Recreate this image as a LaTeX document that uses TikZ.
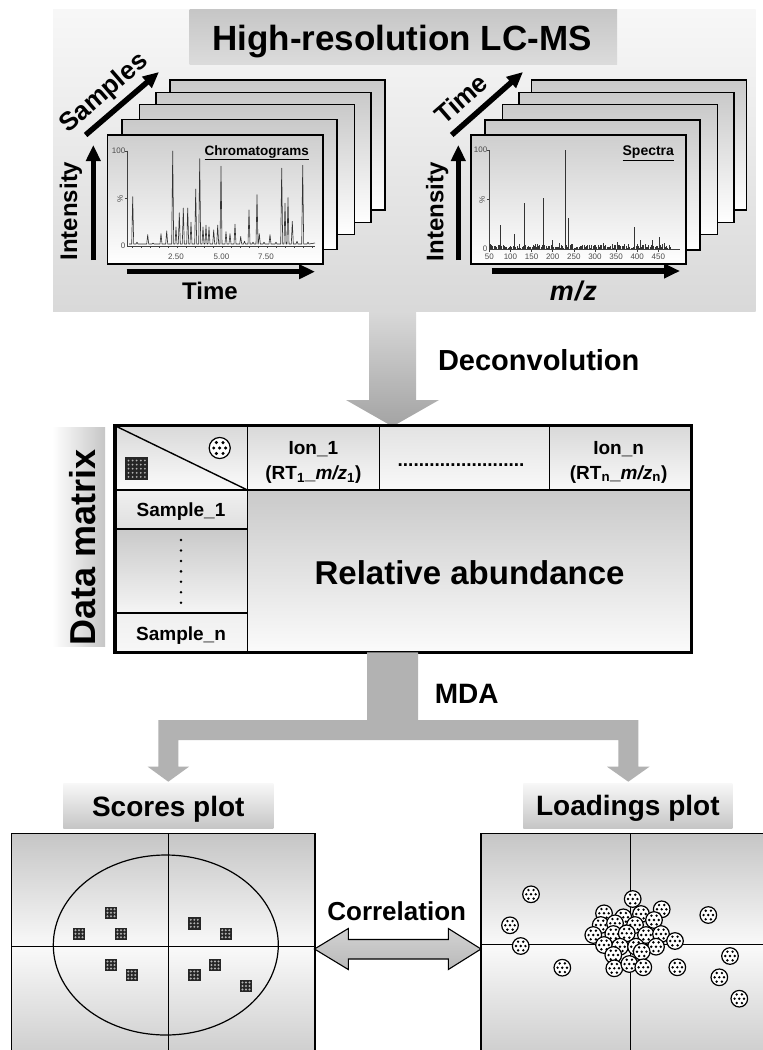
\documentclass[tikz,border=0pt]{standalone}
\usepackage{fontspec}
\setmainfont{Liberation Sans}
\usetikzlibrary{arrows.meta}
\newcommand{\fsz}[1]{\fontsize{#1}{#1}\selectfont}
\begin{document}
\begin{tikzpicture}[x=1pt,y=-1pt,
  lbl/.style={inner sep=0pt},
  frame/.style={draw=black,line width=1.3pt},
  fatarrow/.style={line width=5.5pt,-{Triangle[length=16pt,width=14pt]}},
  tick/.style={inner sep=0pt,font=\fsz{8},text=black!70},
  cellline/.style={line width=1.8pt},
  trace/.style={black!80,line width=0.6pt,line join=round},
  sq/.pic={\fill[black!85] (-6.2,-6.2) rectangle (6.2,6.2);
           \foreach \i in {-3.5,0,3.5} \foreach \j in {-3.5,0,3.5} \fill[white!70!black] (\i,\j) circle (1.1);},
  ld/.pic={\filldraw[fill=white,draw=black,line width=1.2pt] (0,0) circle (8.3);
           \foreach \p in {(-2.6,-4.3),(2.6,-4.3),(-4.7,0),(0,0),(4.7,0),(-2.6,4.3),(2.6,4.3)} \fill \p circle (1.35);},
]
\fill[white] (0,0) rectangle (763,1050);
\useasboundingbox (0,0) rectangle (763,1050);

% ---------------- top panel ----------------
\shade[top color=gray!6,bottom color=gray!30] (53,9) rectangle (755.5,311.5);
\shade[top color=gray!45,middle color=gray!4,bottom color=gray!28] (189.5,9) rectangle (617,64);
\node[lbl,font=\bfseries\fsz{35},anchor=base] (title) at (402,50) {High-resolution LC-MS};

% chromatogram stack
\foreach \x/\y in {170/80,156/92.5,139.5/104.5,122/119.5}
  \shadedraw[top color=gray!42,bottom color=white,frame] (\x,\y) rectangle ++(215,130);
\shadedraw[top color=gray!38,bottom color=white,frame] (107.5,135) rectangle ++(215.5,129);
% spectra stack
\foreach \x/\y in {531.7/80,519/92.5,502.7/104.8,485/120}
  \shadedraw[top color=gray!42,bottom color=white,frame] (\x,\y) rectangle ++(215,130);
\shadedraw[top color=gray!38,bottom color=white,frame] (471,135) rectangle ++(215,129);

% chromatogram axes
\draw[black!75,line width=0.6pt] (127.3,150.7) -- (127.3,246) -- (315,246);
\foreach \t in {132,141,...,314} \draw[black!75,line width=0.5pt] (\t,246) -- (\t,248.3);
\draw[black!75,line width=0.5pt] (125,151) -- (127.3,151) (125,198.5) -- (127.3,198.5);
\node[tick,anchor=east] at (125.5,151) {100};
\node[tick,anchor=east] at (125.5,246) {0};
\node[tick,rotate=90] at (120,198.5) {\%};
\node[tick] at (176,256.5) {2.50};
\node[tick] at (221.5,256.5) {5.00};
\node[tick] at (266,256.5) {7.50};
\draw[trace] (129,244) foreach \px/\ph in {132.7/0.52,137/0.04,147.7/0.12,153/0.03,161/0.13,166.7/0.16,172.7/1.0,176/0.2,179.3/0.35,183.3/0.4,187.7/0.4,191/0.25,195.7/0.6,199.7/0.92,203/0.2,206/0.22,209/0.2,213.7/0.17,217.7/0.22,221/0.84,226/0.15,230/0.13,235/0.23,240.7/0.1,244.5/0.05,249/0.38,253/0.04,257/0.54,259.3/0.13,264/0.04,270/0.12,276/0.04,281.7/0.82,285/0.45,288/0.51,292.3/0.26,297/0.05,302.7/0.85,308/0.04}
  { -- (\px-1,244) -- (\px,246-95*\ph) -- (\px+1,244) } -- (315,243);
\node[lbl,font=\bfseries\fsz{13.5},anchor=base] (chrom) at (256.7,155) {\underline{Chromatograms}};

% spectra axes
\draw[black!75,line width=0.6pt] (489.3,150) -- (489.3,249.5) -- (680,249.5);
\draw[black!75,line width=0.5pt] (487,150) -- (489.3,150) (487,199.5) -- (489.3,199.5);
\node[tick,anchor=east] at (487.5,150) {100};
\node[tick,anchor=east] at (487.5,249) {0};
\node[tick,rotate=90] at (482,199.5) {\%};
\foreach \m in {50,100,...,450} {
  \draw[black!75,line width=0.5pt] ({489.3+(\m-50)*0.4225},249.5) -- ++(0,2.3);
  \node[tick] at ({489.3+(\m-50)*0.4225},257) {\m};
}
\pgfmathsetseed{11}
\foreach \m in {52,55,...,478}
  \draw[black!80,line width=0.5pt] ({489.3+(\m-50)*0.4225},249) -- ++(0,{-1-4*rnd});
\foreach \m/\h in {76.8/0.24,109/0.15,132/0.46,178/0.52,199/0.09,230.7/1.0,237/0.31,320/0.06,353.7/0.07,392/0.22,408/0.09,436/0.09,452/0.12,120/0.05,160/0.05,215/0.06,270/0.04,300/0.04,340/0.05,370/0.05,420/0.05,465/0.06}
  \draw[black!80,line width=0.6pt] ({489.3+(\m-50)*0.4225},249) -- ++(0,-99*\h);
\node[lbl,font=\bfseries\fsz{14},anchor=base] (spec) at (648.3,155.5) {\underline{Spectra}};

% axis arrows and labels (left)
\draw[fatarrow] (93.3,260) -- (93.3,145);
\node[lbl,font=\bfseries\fsz{24},rotate=90,anchor=base] (int1) at (77,211) {Intensity};
\draw[fatarrow] (126.7,271.7) -- (315,271.7);
\node[lbl,font=\bfseries\fsz{24},anchor=base] (time1) at (210,299.3) {Time};
\draw[fatarrow] (85.6,135) -- (159,72);
\node[lbl,font=\bfseries\fsz{26},rotate=41] (samp) at (104.5,93.5) {Samples};
% right
\draw[fatarrow] (458.3,260) -- (458.3,145);
\node[lbl,font=\bfseries\fsz{24},rotate=90,anchor=base] (int2) at (443.3,211.7) {Intensity};
\draw[fatarrow] (491.7,271) -- (680,271);
\node[lbl,font=\bfseries\itshape\fsz{27},anchor=base] (mz) at (573.3,300) {m\kern1pt/\kern1pt z};
\draw[fatarrow] (451.7,135) -- (523,72);
\node[lbl,font=\bfseries\fsz{26},rotate=41] (time2) at (461,98.5) {Time};

% deconvolution arrow
\shade[top color=gray!30,bottom color=gray!72] (369,311.5) -- (416,311.5) -- (416,400) -- (439,400) -- (392.5,426.5) -- (346,400) -- (369,400) -- cycle;
\node[lbl,font=\bfseries\fsz{29},anchor=base] (deconv) at (538.7,370) {Deconvolution};

% ---------------- data matrix ----------------
\shade[left color=white,right color=gray!45] (52,427) rectangle (105,646);
\node[lbl,font=\bfseries\fsz{36},rotate=90,anchor=base] (dm) at (95,547.5) {Data matrix};

\shade[top color=gray!30,bottom color=gray!3] (115,425.7) rectangle (247.4,490);
\shade[top color=gray!30,bottom color=gray!5] (247.4,425.7) rectangle (379.4,490);
\shade[top color=gray!22,bottom color=gray!5] (379.4,425.7) rectangle (549.4,490);
\shade[top color=gray!30,bottom color=gray!5] (549.4,425.7) rectangle (691.7,490);
\shade[top color=gray!12,bottom color=gray!25] (115,490) rectangle (247.4,529.3);
\shade[top color=gray!42,bottom color=gray!8] (115,529.3) rectangle (247.4,613.3);
\shade[top color=gray!12,bottom color=gray!6] (115,613.3) rectangle (247.4,652.3);
\shade[top color=gray!42,bottom color=gray!3] (247.4,490) rectangle (691.7,652.3);

\draw[cellline] (247.4,425.7) -- (247.4,652.3)
  (379.4,425.7) -- (379.4,490) (549.4,425.7) -- (549.4,490)
  (115,490) -- (691.7,490) (115,529.3) -- (247.4,529.3) (115,613.3) -- (247.4,613.3);
\draw[line width=1.4pt] (115,425.7) -- (247.4,490);
\draw[line width=3.2pt] (115,425.7) rectangle (691.7,652.3);

% corner symbols
\pic[scale=1.27] at (219.7,448) {ld};
\fill[black!85] (125.3,457.3) rectangle (148,480.3);
\foreach \i in {0,...,4} \foreach \j in {0,...,4}
  \fill[white!70!black] (128.5+\i*4.1,460.5+\j*4.1) circle (1);

\node[lbl,font=\bfseries\fsz{19},anchor=base] (ion1) at (313.4,454) {Ion\_1};
\node[lbl,font=\bfseries\fsz{19},anchor=base] (rt1) at (313.4,479) {(RT\textsubscript{1}\_\textit{m/z}\textsubscript{1})};
\node[lbl,font=\bfseries\fsz{19},anchor=base] (dots) at (461,466.3) {........................};
\node[lbl,font=\bfseries\fsz{19},anchor=base] (ionn) at (618.6,454) {Ion\_n};
\node[lbl,font=\bfseries\fsz{19},anchor=base] (rtn) at (618.6,479) {(RT\textsubscript{n}\_\textit{m/z}\textsubscript{n})};
\node[lbl,font=\bfseries\fsz{19},anchor=base] (s1) at (181,516.7) {Sample\_1};
\foreach \k in {0,...,6} \fill (181,540+\k*10.45) circle (1.4);
\node[lbl,font=\bfseries\fsz{19},anchor=base] (sn) at (181,640) {Sample\_n};
\node[lbl,font=\bfseries\fsz{33},anchor=base] (rel) at (469.6,584) {Relative abundance};

% ---------------- MDA arrow ----------------
\fill[black!30] (367,652.3) -- (367,720) -- (158.3,720) -- (158.3,766.7) -- (147.7,766.7) -- (168.3,781.7)
  -- (189,766.7) -- (178.3,766.7) -- (178.3,740) -- (618.3,740) -- (618.3,766.7) -- (607,766.7)
  -- (628.3,781.7) -- (649.5,766.7) -- (638.3,766.7) -- (638.3,720) -- (418,720) -- (418,652.3) -- cycle;
\node[lbl,font=\bfseries\fsz{28},anchor=base] (mda) at (466.7,703.3) {MDA};

% plot title boxes
\shade[top color=gray!6,bottom color=gray!45] (63.3,783.3) rectangle (273.3,828.3);
\node[lbl,font=\bfseries\fsz{28},anchor=base] (scores) at (168.3,816.5) {Scores plot};
\shade[top color=gray!6,bottom color=gray!45] (523.3,783.3) rectangle (732.3,828.3);
\node[lbl,font=\bfseries\fsz{28},anchor=base] (loadings) at (627.8,815.5) {Loadings plot};

% ---------------- scores plot ----------------
\shade[top color=gray!45,bottom color=gray!5] (11.7,833.3) rectangle (315,946);
\shade[top color=gray!4,bottom color=gray!38] (11.7,946) rectangle (315,1052);
\draw[frame] (11.7,833.3) rectangle (315,1052);
\draw[line width=1pt] (168.3,833.3) -- (168.3,1052) (11.7,946) -- (315,946);
\draw[line width=1.2pt] (165.8,945) ellipse [x radius=112.5,y radius=90];
\foreach \p in {(111,912.7),(79,933.7),(121,933.7),(194.3,923.3),(225.7,933.7),(111,965),(131.7,975),(215,965),(194.3,975),(246,986)}
  \pic at \p {sq};

% ---------------- loadings plot ----------------
\shade[top color=gray!45,bottom color=gray!5] (481,833.3) rectangle (766,944.3);
\shade[top color=gray!4,bottom color=gray!38] (481,944.3) rectangle (766,1052);
\draw[frame] (481,833.3) rectangle (766,1052);
\draw[line width=1pt] (630.7,833.3) -- (630.7,1052) (481,944.3) -- (766,944.3);
\foreach \p in {(531,894.3),(510,925.3),(520.7,946),(562.3,967.7),(708.3,915),(730,956),(719.3,977.3),(739.3,998.7),(677.3,967.3),
  (632.7,899),(661.7,909.3),(604,913.3),(641,914),(623.3,917.3),(654,920),(600.7,925),(615,923.3),(635,925),
  (593.3,935),(613.3,934),(626.7,933.3),(646,935),(661,934),(675,941),(604,945),(620,946.7),(636,946.7),(656,946.7),
  (613.3,955),(641.7,951.7),(614.3,968.3),(629.3,964),(643.3,967.3)}
  \pic at \p {ld};

% ---------------- correlation arrow ----------------
\shadedraw[draw=black,line width=1.1pt,top color=gray!35,middle color=white,bottom color=gray!55]
  (314.5,949) -- (348.3,928.5) -- (348.3,939.5) -- (448.3,939.5) -- (448.3,928.5) -- (481,949)
  -- (448.3,969.5) -- (448.3,959) -- (348.3,959) -- (348.3,969.5) -- cycle;
\node[lbl,font=\bfseries\fsz{26},anchor=base] (corr) at (396.7,920) {Correlation};
\end{tikzpicture}
\end{document}
